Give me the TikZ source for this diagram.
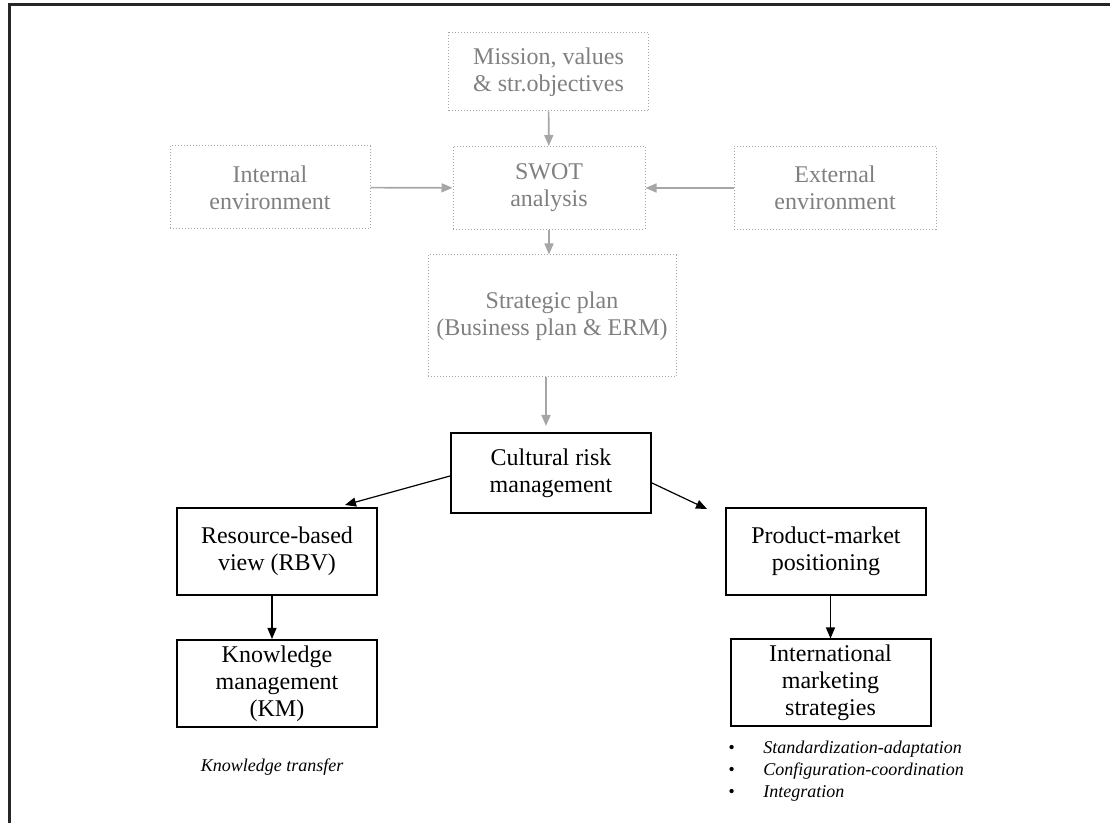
\documentclass[tikz,border=0pt]{standalone}
\usepackage{fontspec}
\setmainfont{Liberation Serif}
\usepackage{xcolor}
\usepackage{tikz}
\usetikzlibrary{positioning,arrows.meta,calc}
\definecolor{cGreyTxt}{HTML}{808080}
\definecolor{cGreyLn}{HTML}{A6A6A6}
\definecolor{cFrame}{HTML}{262626}
\tikzset{
  crm/block/.style    ={draw=black, line width=1pt,
                        minimum width=100pt, minimum height=43.5pt,
                        inner sep=1pt, align=center,
                        font=\fontsize{12}{13.5}\selectfont},
  crm/greyblock/.style={crm/block, draw=cGreyLn, line width=0.5pt,
                        densely dotted, text=cGreyTxt, minimum height=41.5pt},
  crm/arr/.style      ={-{Triangle[length=5.5pt, width=4.5pt]}, line width=0.6pt, black},
  crm/greyarr/.style  ={-{Triangle[length=5.5pt, width=4.5pt]}, line width=0.8pt, cGreyLn},
  crm/note/.style     ={font=\fontsize{9}{11}\selectfont\itshape, inner sep=0pt},
  crm/frame/.style    ={line width=1.5pt, cFrame}
}

\begin{document}
\begin{tikzpicture}[x=0.5pt, y=-0.5pt]
    \useasboundingbox (0,0) rectangle (1110,823);
    % page frame (top and left rule only)
    \coordinate (frameBL) at (9,823);
    \coordinate (frameTR) at (1110,5);
    \draw[crm/frame] (frameBL) |- (frameTR);

    % strategic planning (grey, dotted)
    \node[crm/greyblock, minimum height=39pt] (mission) at (548.5,72) {Mission, values\\\& str.objectives};
    \node[crm/greyblock] (internal) at (270,187.5) {Internal\\environment};
    \node[crm/greyblock, minimum width=96pt] (swot) at (549,188) {SWOT\\analysis};
    \node[crm/greyblock, minimum width=101pt] (external) at (835,188) {External\\environment};
    \node[crm/greyblock, minimum width=124pt, minimum height=61pt] (strat) at (552,316)
          {Strategic plan\\(Business plan \& ERM)};

    % cultural risk management and its two branches
    \node[crm/block, minimum height=40pt] (culture) at (551,473) {Cultural risk\\management};
    \node[crm/block] (rbv) at (277,551.5) {Resource-based\\view (RBV)};
    \node[crm/block] (km)  at (277,683.5) {Knowledge\\management\\(KM)};
    \node[crm/block] (pmp) at (826,551.5) {Product-market\\positioning};
    \node[crm/block] (ims) at (830.5,683) {International\\marketing\\strategies};

    % notes under the bottom boxes
    \node[crm/note] (ktransfer) at (272,767) {Knowledge transfer};
    \foreach \i/\txt in {0/Standardization-adaptation, 1/Configuration-coordination, 2/Integration} {
      \node[crm/note, anchor=west] (bul\i)  at (728,749+22*\i) {\textbullet};
      \node[crm/note, anchor=west] (item\i) at (763,749+22*\i) {\txt};
    }

    % grey connectors
    \draw[crm/greyarr] (mission) -- (swot);
    \draw[crm/greyarr] (internal) -- (swot);
    \draw[crm/greyarr] (external) -- (swot);
    \draw[crm/greyarr] (swot.south) -- (swot.south |- strat.north);
    \draw[crm/greyarr, shorten >=3pt] ([xshift=-3pt]strat.south) -- ([xshift=-3pt]strat.south |- culture.north);

    % black connectors
    \draw[crm/arr] ($(culture.west)+(0,3)$) -- ($(rbv.north east)+(-33,-2)$);
    \draw[crm/arr] ($(culture.east)+(0,10)$) -- ($(pmp.north west)+(-18,2)$);
    \draw[crm/arr] ([xshift=-2.5pt]rbv.south) -- ([xshift=-2.5pt]rbv.south |- km.north);
    \draw[crm/arr] (pmp.south -| ims.north) -- (ims.north);
\end{tikzpicture}
\end{document}
